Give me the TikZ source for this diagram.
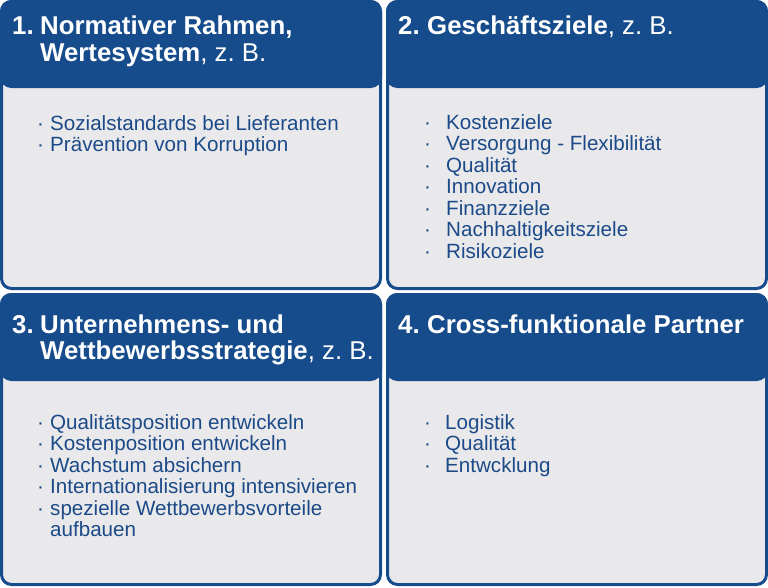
\documentclass[tikz,border=0pt]{standalone}
\usepackage{fontspec}
\setmainfont{Liberation Sans}
\frenchspacing
\definecolor{dunkelblau}{RGB}{22,76,140}
\definecolor{hellgrau}{RGB}{233,233,235}
\definecolor{textblau}{RGB}{28,74,136}
\tikzset{
    feld/.style={draw=dunkelblau, line width=3pt, fill=hellgrau, rounded corners=10pt,
        anchor=north west, inner sep=0pt, outer sep=0pt, minimum width=379pt},
    kopf/.style={draw=dunkelblau, line width=3pt, fill=dunkelblau, rounded corners=10pt,
        anchor=north west, inner sep=0pt, outer sep=0pt, minimum width=379pt, minimum height=85pt},
    titel/.style={anchor=base west, inner sep=0pt, text=white, font=\fontsize{25.8}{27}\selectfont},
    punkt/.style={anchor=base west, inner sep=0pt, text=textblau, font=\fontsize{20.6}{21.5}\selectfont}
}
\begin{document}
\begin{tikzpicture}[x=1pt,y=-1pt]
        \useasboundingbox (0,0) rectangle (768,587);

        %%%%%%%%%% Felder %%%%%%%%%%
        \node[feld, minimum height=287pt] (f1) at (1.5,1.5) {};
        \node[feld, minimum height=287pt] (f2) at (387.5,1.5) {};
        \node[feld, minimum height=290pt] (f3) at (1.5,294.5) {};
        \node[feld, minimum height=290pt] (f4) at (387.5,294.5) {};

        %%%%%%%%%% Koepfe %%%%%%%%%%
        \node[kopf] (k1) at (f1.north west) {};
        \node[kopf] (k2) at (f2.north west) {};
        \node[kopf] (k3) at (f3.north west) {};
        \node[kopf] (k4) at (f4.north west) {};

        %%%%%%%%%% Titel %%%%%%%%%%
        \node[titel] (n1) at (12,34.5) {\textbf{1.}};
        \node[titel] (t1a) at (40,34.5) {\textbf{Normativer Rahmen,}};
        \node[titel] (t1b) at (40,61) {\textbf{Wertesystem}, z. B.};
        \node[titel] (n2) at (398,34.5) {\textbf{2.}};
        \node[titel] (t2a) at (427,34.5) {\textbf{Geschäftsziele}, z. B.};
        \node[titel] (n3) at (12,333) {\textbf{3.}};
        \node[titel] (t3a) at (40,333) {\textbf{Unternehmens- und}};
        \node[titel] (t3b) at (40,359.5) {\textbf{Wettbewerbsstrategie}, z. B.};
        \node[titel] (n4) at (398,333) {\textbf{4.}};
        \node[titel] (t4a) at (427,333) {\textbf{Cross-funktionale Partner}};

        %%%%%%%%%% Listen %%%%%%%%%%
        \foreach \txt [count=\i from 0] in {Sozialstandards bei Lieferanten, Prävention von Korruption} {
            \node[punkt] (p1-\i) at (37,{130+21.5*\i}) {·};
            \node[punkt] (e1-\i) at (50,{130+21.5*\i}) {\txt};
        }
        \foreach \txt [count=\i from 0] in {Kostenziele, Versorgung - Flexibilität, Qualität,
                Innovation, Finanzziele, Nachhaltigkeitsziele, Risikoziele} {
            \node[punkt] (p2-\i) at (424,{129.5+21.45*\i}) {·};
            \node[punkt] (e2-\i) at (446,{129.5+21.45*\i}) {\txt};
        }
        \foreach \txt [count=\i from 0] in {Qualitätsposition entwickeln, Kostenposition entwickeln,
                Wachstum absichern, Internationalisierung intensivieren, spezielle Wettbewerbsvorteile} {
            \node[punkt] (p3-\i) at (37,{429+21.5*\i}) {·};
            \node[punkt] (e3-\i) at (50,{429+21.5*\i}) {\txt};
        }
        \node[punkt] (e3-5) at (50,536.5) {aufbauen};
        \foreach \txt [count=\i from 0] in {Logistik, Qualität, Entwcklung} {
            \node[punkt] (p4-\i) at (424,{429+21.5*\i}) {·};
            \node[punkt] (e4-\i) at (445,{429+21.5*\i}) {\txt};
        }
    \end{tikzpicture}
\end{document}
